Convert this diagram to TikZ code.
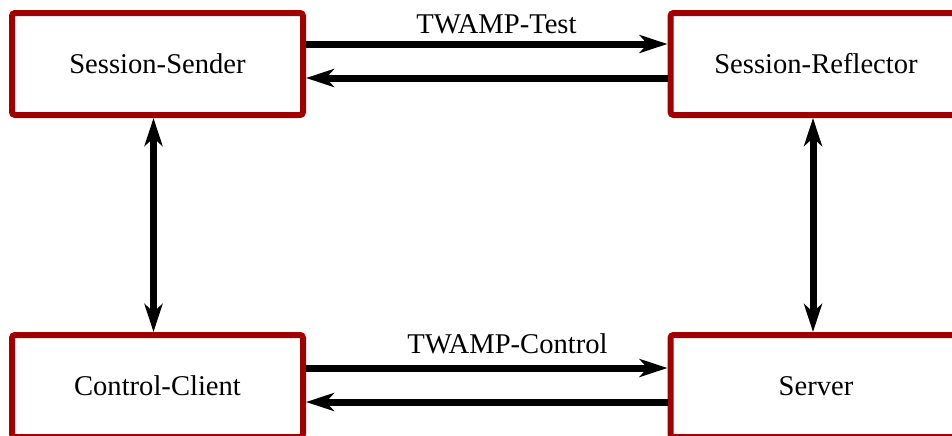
\documentclass[tikz,border=0pt]{standalone}
\usepackage{fontspec}
\setmainfont{Liberation Serif}
\usepackage{tikz}
\usetikzlibrary{arrows.meta}
\definecolor{boxred}{RGB}{160,0,0}

\begin{document}
\begin{tikzpicture}[x=0.5pt,y=-0.5pt,
  every node/.style={font=\fontsize{14.3}{17}\selectfont},
  entity/.style={draw=boxred, fill=white, line width=3pt, rounded corners=1.5pt,
    minimum width=145.5pt, minimum height=51pt, inner sep=0pt, outer sep=auto},
  link/.style={black, line width=3.5pt, -{Stealth[length=14pt,width=9pt,inset=4pt]}},
  duplex/.style={black, line width=3.5pt,
    {Stealth[length=14pt,width=9pt,inset=4pt]}-{Stealth[length=14pt,width=9pt,inset=4pt]}}]
\useasboundingbox (0,0) rectangle (952,435);
% the four parties
\node [entity] (sender) at (157.5,64) {Session-Sender};
\node [entity] (reflector) at (816,64) {Session-Reflector};
\node [entity] (client) at (157.5,386) {Control-Client};
\node [entity] (server) at (816,386) {Server};
% test traffic
\draw [link] ([yshift=10pt]sender.east) -- ([yshift=10pt]reflector.west);
\draw [link] ([yshift=-7pt]reflector.west) -- ([yshift=-7pt]sender.east);
\node [anchor=base] (testlbl) at (496.5,33) {TWAMP-Test};
% control traffic
\draw [link] ([yshift=9pt]client.east) -- ([yshift=9pt]server.west);
\draw [link] ([yshift=-8pt]server.west) -- ([yshift=-8pt]client.east);
\node [anchor=base] (ctrllbl) at (507.5,353) {TWAMP-Control};
% local links
\draw [duplex] ([xshift=-2pt]sender.south) -- ([xshift=-2pt]client.north);
\draw [duplex] ([xshift=-1.5pt]reflector.south) -- ([xshift=-1.5pt]server.north);
\end{tikzpicture}
\end{document}
